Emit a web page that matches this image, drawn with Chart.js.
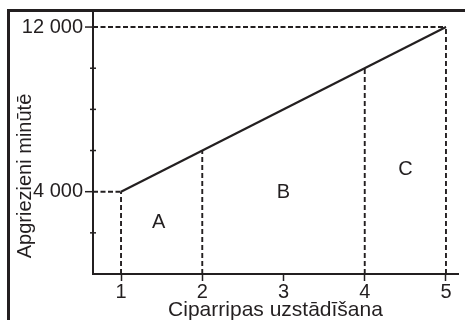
<!DOCTYPE html>
<html><head><meta charset="utf-8">
<script src="https://cdn.jsdelivr.net/npm/chart.js@4"></script>
<style>
html,body{margin:0;padding:0;background:#fff;}
#wrap{position:relative;width:465px;height:320px;overflow:hidden;}
#frame{position:absolute;left:7px;top:9px;right:-10px;bottom:-10px;border-left:3px solid #231f20;border-top:3px solid #231f20;pointer-events:none;}
canvas{position:absolute;left:0;top:0;}
</style></head><body>
<div id="wrap"><canvas id="c" width="465" height="320"></canvas><div id="frame"></div></div>
<script>
// ---- data ----
const settingLevels = [1, 5];
const rpmValues = [4000, 12000];
const guideX = [1, 2, 4, 5];
const guideTop = [4000, 6000, 10000, 12000];
const refY = [4000, 12000];
const refXEnd = [1, 5];
const xTicks = [1, 2, 3, 4, 5];
const yTicks = [2000, 4000, 6000, 8000, 10000, 12000];
const yLabeled = [4000, 12000];
const regionNames = ['A', 'B', 'C'];
const regionFrom = [1, 2, 4];
const regionTo = [2, 4, 5];
const regionLabelY = [2500, 3950, 5100];
const xTitle = 'Ciparripas uzstādīšana';
const yTitle = 'Apgriezieni minūtē';

// ---- axis ranges ----
const X_MIN = 0.655, X_MAX = 5.148, Y_MIN = 0, Y_MAX = 12780;
const INK = '#231f20';
const FONT = '"Liberation Sans", Arial, sans-serif';

const fmt = v => String(v).replace(/\B(?=(\d{3})+(?!\d))/g, ' ');

const datasets = [];
datasets.push({
  data: settingLevels.map((x, i) => ({x, y: rpmValues[i]})),
  borderColor: INK, borderWidth: 2.2, pointRadius: 0, showLine: true, order: 0
});
guideX.forEach((gx, i) => datasets.push({
  data: [{x: gx, y: Y_MIN}, {x: gx, y: guideTop[i]}],
  borderColor: INK, borderWidth: 1.9, borderDash: [5, 3], pointRadius: 0, showLine: true, order: 1
}));
refY.forEach((ry, i) => datasets.push({
  data: [{x: X_MIN, y: ry}, {x: refXEnd[i], y: ry}],
  borderColor: INK, borderWidth: 1.9, borderDash: [5, 2.5], pointRadius: 0, showLine: true, order: 1
}));

const extras = {
  id: 'extras',
  afterDraw(chart) {
    const {ctx, chartArea, scales: {x, y}} = chart;
    ctx.save();
    ctx.strokeStyle = INK;
    ctx.lineWidth = 1.5;
    yTicks.forEach(v => {
      const py = y.getPixelForValue(v);
      const lab = yLabeled.includes(v);
      ctx.beginPath();
      ctx.moveTo(chartArea.left - (lab ? 8 : 3), py);
      ctx.lineTo(chartArea.left + (lab ? 1 : 3), py);
      ctx.stroke();
    });
    ctx.fillStyle = INK;
    ctx.font = '20px ' + FONT;
    ctx.textAlign = 'center';
    ctx.textBaseline = 'middle';
    regionNames.forEach((n, i) => {
      const px = x.getPixelForValue((regionFrom[i] + regionTo[i]) / 2);
      const py = y.getPixelForValue(regionLabelY[i]);
      ctx.fillText(n, px - (i === 0 ? 3 : 0), py);
    });
    ctx.translate(25, 176);
    ctx.rotate(-Math.PI / 2);
    ctx.fillText(yTitle, 0, 0);
    ctx.restore();
  }
};

new Chart(document.getElementById('c'), {
  type: 'scatter',
  data: {datasets},
  plugins: [extras],
  options: {
    responsive: false, animation: false, devicePixelRatio: 1,
    layout: {padding: {left: 0, top: 11, right: 7, bottom: 0}},
    plugins: {legend: {display: false}, tooltip: {enabled: false}},
    scales: {
      x: {
        type: 'linear', min: X_MIN, max: X_MAX,
        afterBuildTicks: s => { s.ticks = xTicks.map(v => ({value: v})); },
        afterFit: s => { s.height = 46; s.paddingLeft = 0; s.paddingRight = 0; },
        ticks: {font: {size: 20, family: FONT}, color: INK, padding: -1, autoSkip: false, maxRotation: 0},
        grid: {display: true, drawOnChartArea: false, drawTicks: true, tickLength: 7, tickWidth: 1.5, tickColor: INK},
        border: {display: true, color: INK, width: 2},
        title: {display: true, text: xTitle, font: {size: 21, family: FONT}, color: INK, padding: {top: 0, bottom: -3}}
      },
      y: {
        type: 'linear', min: Y_MIN, max: Y_MAX,
        afterBuildTicks: s => { s.ticks = yTicks.map(v => ({value: v})); },
        afterFit: s => { s.width = 93; s.paddingTop = 0; s.paddingBottom = 0; },
        ticks: {font: {size: 20, family: FONT}, color: INK, padding: 10, autoSkip: false,
          callback: v => yLabeled.includes(v) ? fmt(v) : ''},
        grid: {display: false, drawTicks: false},
        border: {display: true, color: INK, width: 2}
      }
    }
  }
});
</script>
</body></html>
